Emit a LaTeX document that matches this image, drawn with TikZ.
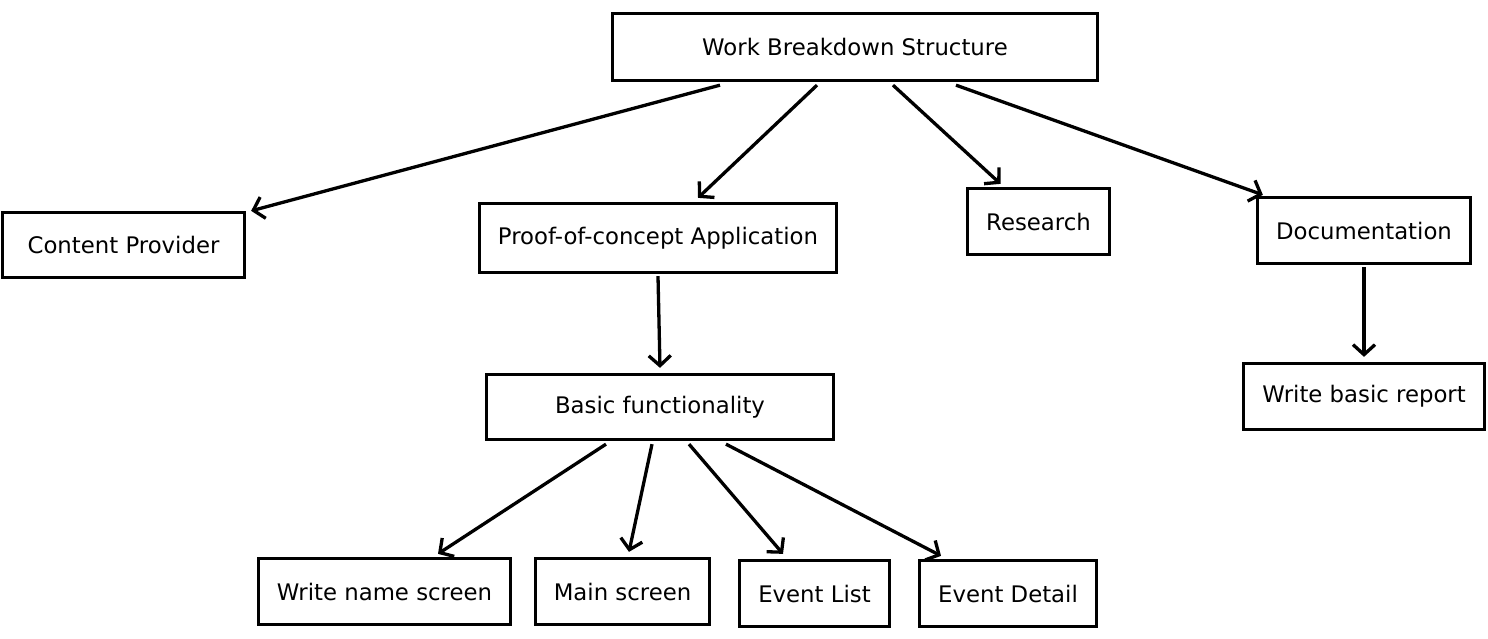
\documentclass[tikz,border=0pt]{standalone}
\usepackage{fontspec}
\setmainfont{DejaVu Sans}
\usetikzlibrary{arrows.meta}
\begin{document}
\begin{tikzpicture}[x=1pt,y=-1pt,
  box/.style={draw,line width=3.3pt,inner sep=0pt,font=\fontsize{22.8}{27}\selectfont},
  link/.style={line width=3.3pt,-{Straight Barb[length=10pt,width=22pt,line width=3.3pt]}}]
\useasboundingbox (0,0) rectangle (1488,638);
\node[box,minimum width=485pt,minimum height=67pt] (wbs) at (855,47) {Work Breakdown Structure};
\node[box,minimum width=242pt,minimum height=65pt] (cp) at (123.5,245) {Content Provider};
\node[box,minimum width=357pt,minimum height=69pt] (poc) at (658,238) {Proof-of-concept Application};
\node[box,minimum width=142pt,minimum height=66pt] (res) at (1038.5,221.5) {Research};
\node[box,minimum width=213pt,minimum height=66pt] (doc) at (1364,230.5) {Documentation};
\node[box,minimum width=241pt,minimum height=66pt] (rep) at (1364,396.5) {Write basic report};
\node[box,minimum width=347pt,minimum height=65pt] (bas) at (660,407) {Basic functionality};
\node[box,minimum width=252pt,minimum height=66pt] (wns) at (384.5,591.5) {Write name screen};
\node[box,minimum width=174pt,minimum height=66pt] (ms) at (622.5,591.5) {Main screen};
\node[box,minimum width=150pt,minimum height=66pt] (el) at (814.5,593.5) {Event List};
\node[box,minimum width=177pt,minimum height=66pt] (ed) at (1008,593.5) {Event Detail};
\draw[link] ([xshift=-135pt,yshift=-3pt]wbs.south) -- ([xshift=5pt,yshift=0pt]cp.north east);
\draw[link] ([xshift=-38pt,yshift=-3pt]wbs.south) -- ([xshift=40pt,yshift=4pt]poc.north);
\draw[link] ([xshift=38pt,yshift=-3pt]wbs.south) -- ([xshift=-38pt,yshift=3pt]res.north);
\draw[link] ([xshift=101pt,yshift=-3pt]wbs.south) -- ([xshift=7pt,yshift=1pt]doc.north west);
\draw[link] ([yshift=-2pt]poc.south) -- ([yshift=5pt]bas.north);
\draw[link] ([yshift=-2pt]doc.south) -- ([yshift=5pt]rep.north);
\draw[link] ([xshift=-54pt,yshift=-3pt]bas.south) -- ([xshift=53.5pt,yshift=3pt]wns.north);
\draw[link] ([xshift=-8pt,yshift=-3pt]bas.south) -- ([xshift=6.5pt,yshift=5pt]ms.north);
\draw[link] ([xshift=29pt,yshift=-3pt]bas.south) -- ([xshift=-31.5pt,yshift=5pt]el.north);
\draw[link] ([xshift=66pt,yshift=-3pt]bas.south) -- ([xshift=-67pt,yshift=3pt]ed.north);
\end{tikzpicture}
\end{document}
